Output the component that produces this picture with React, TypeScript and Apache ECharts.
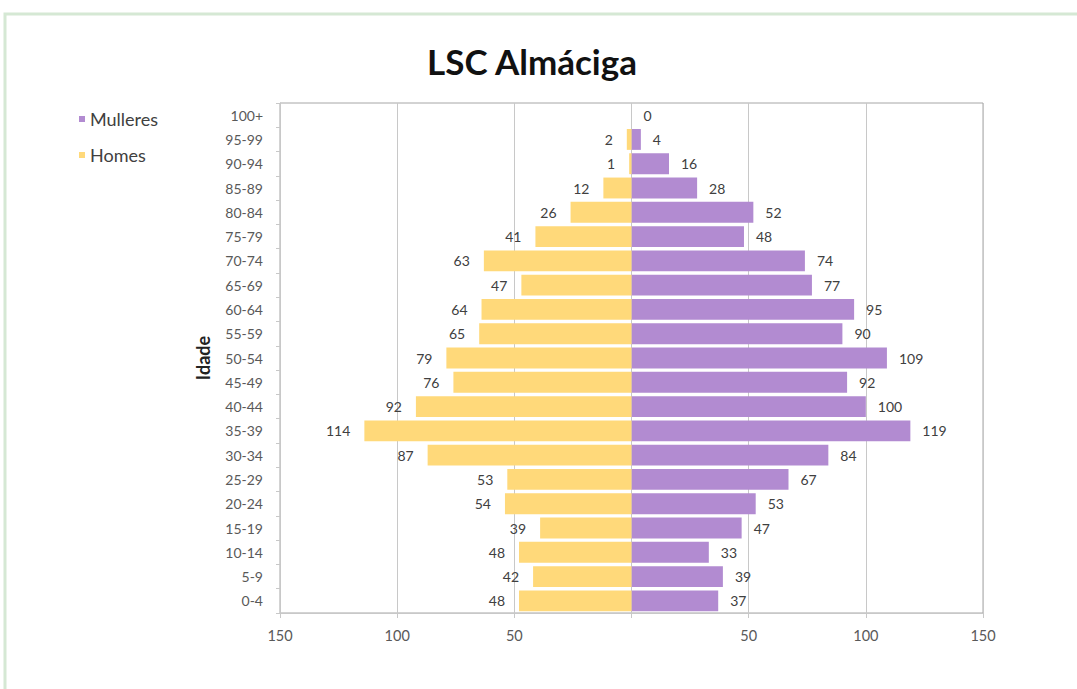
import React, { useEffect, useRef } from "react";
import * as echarts from "echarts";

const categories = ["0-4", "5-9", "10-14", "15-19", "20-24", "25-29", "30-34", "35-39", "40-44", "45-49", "50-54", "55-59", "60-64", "65-69", "70-74", "75-79", "80-84", "85-89", "90-94", "95-99", "100+"];
const homes = [48, 42, 48, 39, 54, 53, 87, 114, 92, 76, 79, 65, 64, 47, 63, 41, 26, 12, 1, 2, 0];
const mulleres = [37, 39, 33, 47, 53, 67, 84, 119, 100, 92, 109, 90, 95, 77, 74, 48, 52, 28, 16, 4, 0];
const xTicks = { min: -150, max: 150, interval: 50 };

const FONT = "Lato, 'Open Sans', sans-serif";

export default function App() {
  const ref = useRef<HTMLDivElement>(null);
  useEffect(() => {
    const chart = echarts.init(ref.current!, null, { renderer: "svg" });
    chart.setOption({
      animation: false,
      backgroundColor: "#ffffff",
      textStyle: { fontFamily: FONT },
      title: {
        text: "LSC Almáciga",
        left: 527,
        textAlign: "center",
        top: 38,
        textStyle: { fontSize: 35, fontWeight: "bold", color: "#111", fontFamily: FONT },
      },
      legend: {
        orient: "vertical",
        left: 74,
        top: 105,
        itemWidth: 6,
        itemHeight: 6,
        itemGap: 18,
        icon: "rect",
        data: ["Mulleres", "Homes"],
        textStyle: { fontSize: 18, color: "#404040", fontFamily: FONT },
      },
      graphic: [
        {
          type: "rect",
          shape: { x: 5, y: 14, width: 1100, height: 700 },
          style: { fill: "none", stroke: "#d5e8d4", lineWidth: 3 },
          silent: true,
        },
      ],
      grid: {
        left: 280,
        right: 94,
        top: 103,
        bottom: 76,
        show: true,
        borderColor: "#a6a6a6",
        borderWidth: 1,
      },
      xAxis: {
        type: "value",
        min: xTicks.min,
        max: xTicks.max,
        interval: xTicks.interval,
        axisLine: { show: true, lineStyle: { color: "#c8c8c8" } },
        axisTick: { show: true, length: 5, lineStyle: { color: "#c8c8c8" } },
        splitLine: { show: true, lineStyle: { color: "#c8c8c8" } },
        axisLabel: {
          fontSize: 14.5,
          color: "#595959",
          margin: 15,
          fontFamily: FONT,
          formatter: (v: number) => (v === 0 ? "" : String(Math.abs(v))),
        },
      },
      yAxis: [
        {
          type: "category",
          data: categories,
          name: "Idade",
          nameLocation: "middle",
          nameGap: 68,
          nameRotate: 90,
          nameTextStyle: { fontSize: 18, fontWeight: "bold", color: "#222", fontFamily: FONT },
          axisLine: { show: false },
          axisTick: { show: false },
          axisLabel: { fontSize: 14, color: "#595959", margin: 17, fontFamily: FONT },
        },
        {
          type: "category",
          data: categories,
          position: "left",
          axisLine: { show: true, onZero: true, lineStyle: { color: "#c8c8c8" } },
          axisTick: { show: true, length: 4, lineStyle: { color: "#c8c8c8" } },
          axisLabel: { show: false },
        },
      ],
      series: [
        {
          name: "Mulleres",
          type: "bar",
          stack: "total",
          yAxisIndex: 0,
          barCategoryGap: "14%",
          data: mulleres,
          itemStyle: { color: "#b28bd1" },
          label: {
            show: true,
            position: "right",
            distance: 12,
            fontSize: 14,
            color: "#404040",
            fontFamily: FONT,
          },
        },
        {
          name: "Homes",
          type: "bar",
          stack: "total",
          yAxisIndex: 0,
          barCategoryGap: "14%",
          data: homes.map((v) => -v),
          itemStyle: { color: "#ffd97a" },
          label: {
            show: true,
            position: "left",
            distance: 14,
            fontSize: 14,
            color: "#404040",
            fontFamily: FONT,
            formatter: (p: any) => (p.value === 0 ? "" : String(Math.abs(p.value))),
          },
        },
      ],
    });
    return () => chart.dispose();
  }, []);
  return <div ref={ref} style={{ position: "fixed", left: 0, top: 0, width: 1077, height: 689 }} />;
}
